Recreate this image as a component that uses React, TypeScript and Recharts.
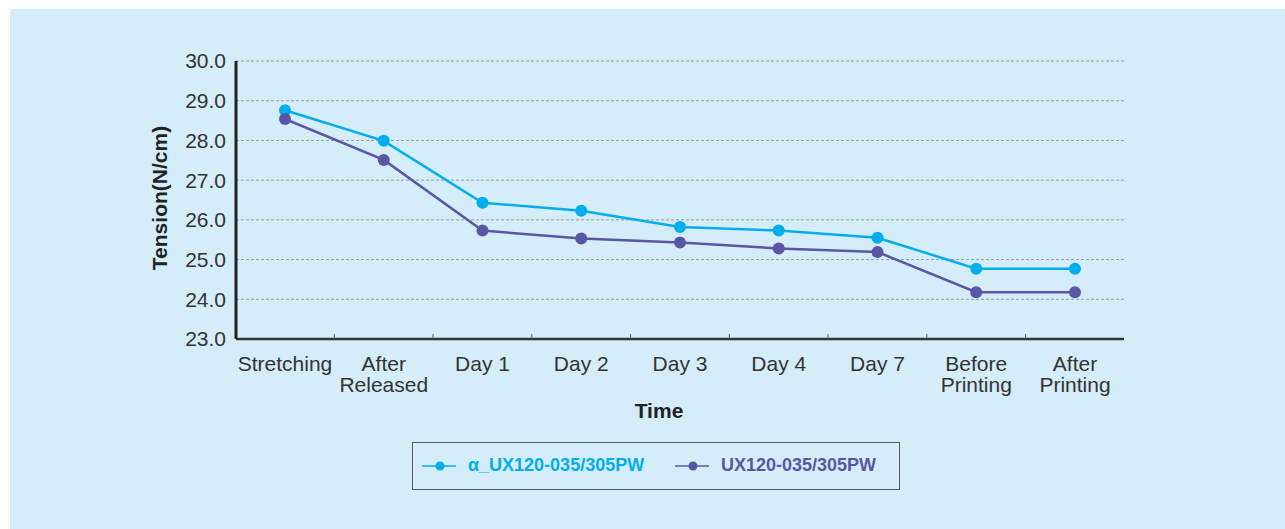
import {CartesianGrid, Legend, Line, LineChart, XAxis, YAxis} from 'recharts';

const categories = [
  'Stretching',
  'After\nReleased',
  'Day 1',
  'Day 2',
  'Day 3',
  'Day 4',
  'Day 7',
  'Before\nPrinting',
  'After\nPrinting',
];
const alphaValues = [28.76, 27.99, 26.43, 26.23, 25.82, 25.73, 25.55, 24.77, 24.77];
const standardValues = [28.54, 27.51, 25.73, 25.53, 25.43, 25.28, 25.19, 24.18, 24.18];
const yTicks = [23, 24, 25, 26, 27, 28, 29, 30];

const alphaName = 'α_UX120-035/305PW';
const standardName = 'UX120-035/305PW';
const legendOrder = [alphaName, standardName];

const data = categories.map((category, i) => ({
  category,
  alpha: alphaValues[i],
  standard: standardValues[i],
}));

const CYAN = '#00aeef';
const PURPLE = '#5a56a6';
const FONT = '"Liberation Sans", Arial, Helvetica, sans-serif';
const PLOT_W = 888;
const STEP = PLOT_W / categories.length;

function CategoryTick(props: any) {
  const {x, y, payload, index} = props;
  const lines = String(payload.value).split('\n');
  return (
    <g>
      {index < categories.length - 1 && (
        <line
          x1={x + STEP / 2}
          x2={x + STEP / 2}
          y1={y}
          y2={y - 5}
          stroke="#555"
          strokeWidth={1}
        />
      )}
      <text
        x={x}
        y={y + 32}
        textAnchor="middle"
        fontSize={21}
        fill="#333"
        fontFamily={FONT}
      >
        {lines.map((line, i) => (
          <tspan key={i} x={x} dy={i === 0 ? 0 : 20.5}>
            {line}
          </tspan>
        ))}
      </text>
    </g>
  );
}

function renderLegend(props: any) {
  const payload = [...(props.payload || [])].sort(
    (a: any, b: any) => legendOrder.indexOf(a.value) - legendOrder.indexOf(b.value),
  );
  return (
    <div
      style={{
        position: 'relative',
        width: 488,
        height: 48,
        boxSizing: 'border-box',
        border: '1.5px solid #555',
      }}
    >
      {payload.map((entry: any, i: number) => (
        <div
          key={i}
          style={{
            position: 'absolute',
            left: 9 + i * 253,
            top: 0,
            height: 45,
            display: 'flex',
            alignItems: 'center',
          }}
        >
          <svg width={34} height={14} style={{marginRight: 12}}>
            <line x1={0} x2={34} y1={7} y2={7} stroke={entry.color} strokeWidth={1.5} />
            <circle cx={18} cy={7} r={4.5} fill={entry.color} />
          </svg>
          <span
            style={{
              color: entry.color,
              fontFamily: FONT,
              fontWeight: 'bold',
              fontSize: 18,
              whiteSpace: 'nowrap',
            }}
          >
            {entry.value}
          </span>
        </div>
      ))}
    </div>
  );
}

export default function App() {
  return (
    <div
      style={{
        position: 'absolute',
        left: 10,
        top: 9,
        width: 1275,
        height: 520,
        background: '#d5edf9',
      }}
    >
      <LineChart
        width={1275}
        height={420}
        data={data}
        margin={{top: 52, right: 161, bottom: 10, left: 146}}
      >
        <CartesianGrid
          horizontal
          vertical={false}
          stroke="#9a9a9a"
          strokeDasharray="3 2"
        />
        <XAxis
          dataKey="category"
          interval={0}
          padding={{left: 49, right: 49}}
          height={80}
          tickLine={false}
          tickSize={0}
          tickMargin={0}
          axisLine={{stroke: '#333', strokeWidth: 2.5}}
          tick={(p: any) => <CategoryTick {...p} />}
          label={{
            content: (p: any) => {
              const vb = p.viewBox;
              return (
                <text
                  x={vb.x + vb.width / 2 - 21}
                  y={vb.y + 79}
                  textAnchor="middle"
                  fontSize={21}
                  fontWeight="bold"
                  fill="#222"
                  fontFamily={FONT}
                >
                  Time
                </text>
              );
            },
          }}
        />
        <YAxis
          domain={[23, 30]}
          ticks={yTicks}
          width={80}
          tickLine={false}
          tickSize={0}
          tickMargin={10}
          tickFormatter={(v) => Number(v).toFixed(1)}
          tick={{fill: '#333', fontSize: 21, fontFamily: FONT}}
          axisLine={{stroke: '#222', strokeWidth: 3}}
          label={{
            content: (p: any) => {
              const vb = p.viewBox;
              const cx = vb.x + 3;
              const cy = vb.y + vb.height / 2 - 2;
              return (
                <text
                  x={cx}
                  y={cy}
                  transform={`rotate(-90, ${cx}, ${cy})`}
                  textAnchor="middle"
                  dominantBaseline="central"
                  fontSize={21}
                  fontWeight="bold"
                  fill="#222"
                  fontFamily={FONT}
                >
                  Tension(N/cm)
                </text>
              );
            },
          }}
        />
        <Legend
          layout="horizontal"
          verticalAlign="middle"
          align="center"
          content={renderLegend}
          wrapperStyle={{left: 402, top: 433, width: 488, height: 48}}
        />
        <Line
          type="linear"
          dataKey="alpha"
          name={alphaName}
          stroke={CYAN}
          strokeWidth={2.5}
          dot={{r: 6, fill: CYAN, stroke: 'none'}}
          activeDot={false}
          isAnimationActive={false}
        />
        <Line
          type="linear"
          dataKey="standard"
          name={standardName}
          stroke={PURPLE}
          strokeWidth={2.5}
          dot={{r: 6, fill: PURPLE, stroke: 'none'}}
          activeDot={false}
          isAnimationActive={false}
        />
      </LineChart>
    </div>
  );
}
